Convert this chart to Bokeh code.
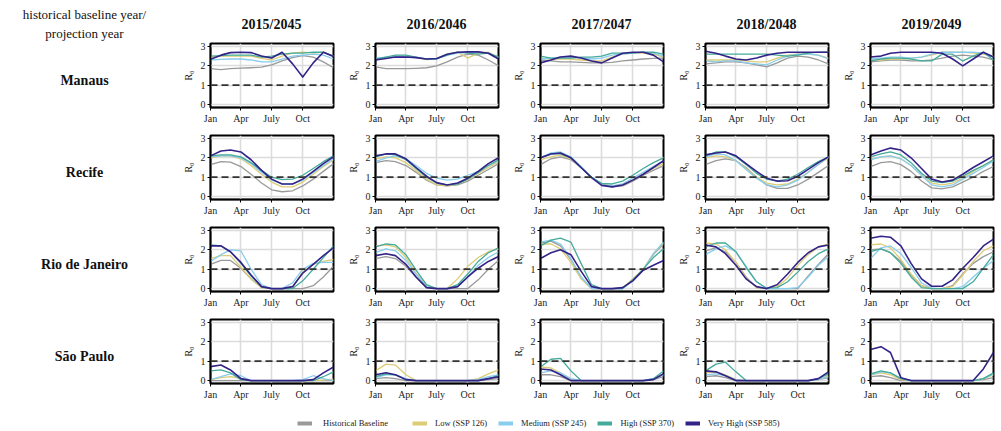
from bokeh.plotting import figure
from bokeh.layouts import row, column
from bokeh.models import Range1d, FixedTicker, Span, Legend, LegendItem
from bokeh.core.properties import value
from bokeh.embed import file_html
from bokeh.resources import INLINE

SERIF = "Liberation Serif"

# ---------------------------------------------------------------- data
cities = ["Manaus", "Recife", "Rio de Janeiro", "São Paulo"]
years = ["2015/2045", "2016/2046", "2017/2047", "2018/2048", "2019/2049"]
scenarios = ["Historical Baseline", "Low (SSP 126)", "Medium (SSP 245)",
             "High (SSP 370)", "Very High (SSP 585)"]
colors = ["#999999", "#DDCC77", "#88CCEE", "#44AA99", "#332288"]
# first day of each month plus 31 Dec
day_of_year = [1, 32, 60, 91, 121, 152, 182, 213, 244, 274, 305, 335, 365]
tick_days = [1, 91, 182, 274]
tick_labels = ["Jan", "Apr", "July", "Oct"]
r0_ticks = [0, 1, 2, 3]

# R0 per city and scenario, one row per year pair (2015..2019)
manaus_historical = [
    [1.85, 1.8, 1.85, 1.88, 1.9, 1.93, 2.05, 2.25, 2.42, 2.52, 2.45, 2.2, 1.9],
    [1.95, 1.85, 1.85, 1.85, 1.87, 1.9, 2.0, 2.2, 2.45, 2.6, 2.55, 2.3, 2.0],
    [2.3, 2.25, 2.2, 2.2, 2.18, 2.15, 2.15, 2.18, 2.25, 2.3, 2.35, 2.38, 2.4],
    [2.1, 2.15, 2.2, 2.2, 2.15, 2.05, 1.95, 2.15, 2.4, 2.5, 2.45, 2.3, 2.1],
    [2.2, 2.25, 2.3, 2.3, 2.25, 2.25, 2.3, 2.4, 2.5, 2.55, 2.5, 2.45, 2.3],
]
manaus_low = [
    [2.45, 2.5, 2.5, 2.5, 2.5, 2.38, 2.3, 2.5, 2.65, 2.7, 2.65, 2.7, 2.5],
    [2.35, 2.42, 2.5, 2.5, 2.42, 2.32, 2.35, 2.6, 2.7, 2.4, 2.65, 2.7, 2.45],
    [2.4, 2.35, 2.35, 2.35, 2.3, 2.25, 2.25, 2.45, 2.6, 2.65, 2.65, 2.6, 2.45],
    [2.3, 2.3, 2.3, 2.3, 2.25, 2.2, 2.2, 2.4, 2.55, 2.6, 2.6, 2.55, 2.4],
    [2.3, 2.3, 2.35, 2.35, 2.4, 2.45, 2.55, 2.7, 2.7, 2.7, 2.65, 2.6, 2.5],
]
manaus_medium = [
    [2.3, 2.33, 2.35, 2.35, 2.3, 2.2, 2.2, 2.35, 2.5, 2.55, 2.6, 2.55, 2.35],
    [2.4, 2.45, 2.5, 2.5, 2.45, 2.35, 2.35, 2.55, 2.65, 2.7, 2.7, 2.65, 2.45],
    [2.35, 2.4, 2.45, 2.45, 2.4, 2.35, 2.4, 2.55, 2.6, 2.65, 2.7, 2.65, 2.5],
    [2.25, 2.2, 2.25, 2.25, 2.15, 2.1, 2.05, 2.3, 2.5, 2.6, 2.6, 2.55, 2.35],
    [2.35, 2.4, 2.45, 2.45, 2.4, 2.45, 2.6, 2.7, 2.7, 2.7, 2.7, 2.65, 2.45],
]
manaus_high = [
    [2.5, 2.52, 2.55, 2.55, 2.55, 2.45, 2.5, 2.6, 2.65, 2.65, 2.7, 2.7, 2.5],
    [2.35, 2.45, 2.55, 2.55, 2.45, 2.35, 2.35, 2.55, 2.7, 2.65, 2.6, 2.65, 2.45],
    [2.5, 2.4, 2.4, 2.4, 2.45, 2.45, 2.5, 2.65, 2.65, 2.65, 2.7, 2.7, 2.6],
    [2.6, 2.6, 2.6, 2.6, 2.6, 2.6, 2.6, 2.55, 2.5, 2.55, 2.65, 2.7, 2.7],
    [2.25, 2.35, 2.4, 2.4, 2.35, 2.25, 2.25, 2.6, 2.6, 2.25, 2.5, 2.7, 2.3],
]
manaus_very_high = [
    [2.34, 2.55, 2.68, 2.7, 2.68, 2.5, 2.4, 2.7, 2.1, 1.42, 2.15, 2.7, 2.48],
    [2.3, 2.38, 2.45, 2.45, 2.42, 2.35, 2.38, 2.6, 2.7, 2.72, 2.72, 2.65, 2.35],
    [2.15, 2.3, 2.45, 2.5, 2.4, 2.25, 2.15, 2.4, 2.65, 2.7, 2.7, 2.55, 2.2],
    [2.75, 2.65, 2.5, 2.35, 2.3, 2.4, 2.55, 2.65, 2.7, 2.7, 2.7, 2.7, 2.7],
    [2.45, 2.5, 2.65, 2.7, 2.7, 2.7, 2.7, 2.65, 2.35, 2.0, 2.35, 2.7, 2.45],
]

recife_historical = [
    [1.65, 1.8, 1.78, 1.55, 1.15, 0.7, 0.35, 0.25, 0.3, 0.55, 0.9, 1.3, 1.7],
    [1.75, 1.85, 1.8, 1.6, 1.25, 0.85, 0.6, 0.55, 0.6, 0.8, 1.1, 1.4, 1.7],
    [1.65, 1.95, 2.05, 1.9, 1.5, 1.0, 0.65, 0.5, 0.55, 0.8, 1.1, 1.35, 1.6],
    [1.65, 1.85, 1.95, 1.85, 1.5, 1.0, 0.6, 0.42, 0.42, 0.6, 0.9, 1.25, 1.6],
    [1.55, 1.75, 1.8, 1.65, 1.3, 0.8, 0.45, 0.4, 0.5, 0.75, 1.0, 1.3, 1.55],
]
recife_low = [
    [2.0, 2.1, 2.1, 1.95, 1.6, 1.15, 0.75, 0.5, 0.5, 0.75, 1.15, 1.55, 1.9],
    [1.95, 2.05, 2.0, 1.75, 1.35, 0.9, 0.6, 0.55, 0.65, 0.9, 1.2, 1.5, 1.8],
    [1.9, 2.05, 2.15, 1.95, 1.5, 1.0, 0.62, 0.55, 0.6, 0.85, 1.15, 1.45, 1.7],
    [2.0, 2.1, 2.05, 1.85, 1.45, 1.0, 0.7, 0.6, 0.65, 0.9, 1.25, 1.65, 2.0],
    [1.9, 2.05, 2.1, 1.95, 1.6, 1.1, 0.7, 0.6, 0.7, 0.95, 1.3, 1.6, 1.9],
]
recife_medium = [
    [2.05, 2.1, 2.1, 2.0, 1.7, 1.25, 0.85, 0.65, 0.65, 0.85, 1.25, 1.6, 1.95],
    [1.8, 2.0, 2.1, 1.95, 1.6, 1.2, 0.95, 0.85, 0.9, 1.1, 1.3, 1.6, 1.85],
    [2.0, 2.25, 2.3, 2.05, 1.55, 1.0, 0.62, 0.55, 0.65, 0.95, 1.25, 1.55, 1.85],
    [2.05, 2.2, 2.15, 1.85, 1.4, 0.95, 0.62, 0.5, 0.6, 0.85, 1.25, 1.65, 2.05],
    [1.9, 2.05, 2.1, 1.95, 1.6, 1.1, 0.6, 0.5, 0.6, 0.9, 1.2, 1.5, 1.85],
]
recife_high = [
    [2.1, 2.15, 2.15, 2.05, 1.75, 1.35, 1.0, 0.87, 0.9, 1.1, 1.45, 1.8, 2.1],
    [2.05, 2.2, 2.15, 1.9, 1.45, 1.0, 0.7, 0.6, 0.65, 0.9, 1.25, 1.6, 1.9],
    [2.0, 2.2, 2.2, 2.0, 1.5, 1.0, 0.68, 0.65, 0.8, 1.1, 1.45, 1.75, 2.0],
    [2.1, 2.3, 2.3, 2.05, 1.65, 1.2, 0.9, 0.8, 0.9, 1.15, 1.5, 1.8, 2.05],
    [2.05, 2.2, 2.3, 2.15, 1.75, 1.2, 0.8, 0.72, 0.8, 1.05, 1.35, 1.6, 1.9],
]
recife_very_high = [
    [2.1, 2.35, 2.4, 2.3, 1.9, 1.35, 0.9, 0.65, 0.65, 0.9, 1.3, 1.7, 2.05],
    [2.1, 2.2, 2.2, 1.95, 1.5, 1.05, 0.72, 0.6, 0.7, 0.95, 1.3, 1.7, 2.0],
    [2.0, 2.2, 2.25, 2.0, 1.5, 0.98, 0.58, 0.5, 0.6, 0.85, 1.15, 1.5, 1.85],
    [2.15, 2.25, 2.3, 2.1, 1.7, 1.3, 0.95, 0.8, 0.82, 1.05, 1.4, 1.75, 2.05],
    [2.15, 2.35, 2.5, 2.4, 2.0, 1.45, 0.9, 0.75, 0.85, 1.15, 1.5, 1.8, 2.1],
]

rio_historical = [
    [1.25, 1.45, 1.45, 1.05, 0.5, 0.05, 0, 0, 0, 0, 0.15, 0.6, 1.15],
    [1.55, 1.65, 1.55, 1.15, 0.6, 0.05, 0, 0, 0, 0, 0.45, 1.0, 1.45],
    [2.35, 2.45, 2.2, 1.5, 0.6, 0, 0, 0, 0, 0.45, 1.0, 1.75, 2.3],
    [1.95, 2.1, 1.9, 1.35, 0.6, 0.05, 0, 0, 0, 0, 0.65, 1.25, 1.8],
    [2.0, 2.05, 1.85, 1.4, 0.7, 0.15, 0, 0, 0.15, 0.75, 1.3, 1.65, 1.9],
]
rio_low = [
    [1.55, 1.7, 1.7, 1.1, 0.5, 0.05, 0, 0, 0.1, 0.85, 1.25, 1.4, 1.5],
    [2.2, 2.25, 2.15, 1.6, 0.8, 0.15, 0, 0, 0.5, 1.15, 1.6, 1.9, 2.05],
    [2.3, 2.3, 2.05, 1.35, 0.5, 0, 0, 0, 0.05, 0.5, 1.0, 1.8, 2.35],
    [2.35, 2.3, 2.0, 1.35, 0.55, 0.05, 0, 0.1, 0.55, 1.2, 1.75, 2.15, 2.3],
    [2.25, 2.3, 2.1, 1.5, 0.75, 0.15, 0, 0, 0.1, 0.7, 1.4, 1.95, 2.2],
]
rio_medium = [
    [1.4, 1.75, 2.0, 1.95, 1.0, 0.2, 0, 0, 0.3, 1.0, 1.3, 1.35, 1.35],
    [1.85, 2.05, 1.95, 1.45, 0.75, 0.1, 0, 0, 0.1, 0.6, 1.2, 1.6, 1.9],
    [2.4, 2.5, 2.3, 1.55, 0.6, 0, 0, 0, 0, 0.4, 0.95, 1.8, 2.4],
    [1.75, 2.05, 2.2, 1.9, 1.15, 0.35, 0, 0, 0, 0.05, 0.6, 1.2, 1.65],
    [1.55, 2.1, 2.2, 1.8, 1.1, 0.3, 0.02, 0, 0, 0.1, 0.6, 1.05, 1.45],
]
rio_high = [
    [2.25, 2.2, 1.9, 1.3, 0.65, 0.1, 0, 0, 0, 0.4, 1.0, 1.6, 2.2],
    [2.15, 2.3, 2.25, 1.75, 0.95, 0.2, 0, 0, 0.2, 0.75, 1.4, 1.85, 2.1],
    [2.2, 2.5, 2.6, 2.4, 1.3, 0.2, 0, 0, 0, 0.45, 1.0, 1.6, 2.05],
    [2.15, 2.35, 2.35, 1.9, 1.1, 0.35, 0.02, 0.05, 0.35, 0.85, 1.4, 1.8, 2.05],
    [1.9, 2.05, 1.85, 1.3, 0.6, 0.05, 0, 0, 0, 0, 0.35, 1.05, 1.75],
]
rio_very_high = [
    [2.2, 2.2, 1.9, 1.35, 0.7, 0.1, 0, 0, 0.1, 0.8, 1.25, 1.7, 2.1],
    [1.7, 1.8, 1.7, 1.25, 0.6, 0.05, 0, 0, 0.1, 0.6, 1.05, 1.4, 1.65],
    [1.55, 1.85, 2.0, 1.75, 0.9, 0.1, 0, 0, 0.05, 0.4, 0.95, 1.2, 1.45],
    [2.25, 2.15, 1.8, 1.2, 0.5, 0.1, 0, 0.2, 0.75, 1.35, 1.85, 2.15, 2.25],
    [2.6, 2.7, 2.65, 2.2, 1.3, 0.5, 0.12, 0.12, 0.45, 1.05, 1.6, 2.2, 2.55],
]

sao_paulo_historical = [
    [0, 0, 0, 0, 0, 0, 0, 0, 0, 0, 0, 0, 0],
    [0.1, 0.15, 0.1, 0, 0, 0, 0, 0, 0, 0, 0, 0.05, 0.1],
    [0.3, 0.3, 0.2, 0, 0, 0, 0, 0, 0, 0, 0, 0.05, 0.2],
    [0.2, 0.25, 0.15, 0, 0, 0, 0, 0, 0, 0, 0, 0.05, 0.15],
    [0.2, 0.25, 0.15, 0, 0, 0, 0, 0, 0, 0, 0, 0.05, 0.15],
]
sao_paulo_low = [
    [0.05, 0.15, 0.2, 0.12, 0, 0, 0, 0, 0, 0, 0, 0.03, 0.08],
    [0.5, 0.85, 0.8, 0.3, 0, 0, 0, 0, 0, 0, 0.1, 0.35, 0.55],
    [0.7, 0.65, 0.4, 0.05, 0, 0, 0, 0, 0, 0, 0, 0.1, 0.3],
    [0.4, 0.45, 0.3, 0.05, 0, 0, 0, 0, 0, 0, 0, 0.05, 0.25],
    [0.3, 0.4, 0.3, 0.05, 0, 0, 0, 0, 0, 0, 0, 0.1, 0.3],
]
sao_paulo_medium = [
    [0.05, 0.2, 0.35, 0.25, 0, 0, 0, 0, 0, 0.05, 0.25, 0.1, 0],
    [0.15, 0.3, 0.3, 0.1, 0, 0, 0, 0, 0, 0, 0.05, 0.2, 0.3],
    [0.4, 0.5, 0.4, 0.1, 0, 0, 0, 0, 0, 0, 0, 0.1, 0.3],
    [0.3, 0.35, 0.25, 0.05, 0, 0, 0, 0, 0, 0, 0, 0.05, 0.2],
    [0.3, 0.45, 0.4, 0.1, 0, 0, 0, 0, 0, 0, 0, 0.1, 0.35],
]
sao_paulo_high = [
    [0.5, 0.55, 0.4, 0.05, 0, 0, 0, 0, 0, 0, 0, 0.2, 0.45],
    [0.2, 0.35, 0.3, 0.05, 0, 0, 0, 0, 0, 0, 0, 0.1, 0.25],
    [0.7, 1.1, 1.15, 0.5, 0, 0, 0, 0, 0, 0, 0, 0.1, 0.5],
    [0.5, 0.85, 0.95, 0.45, 0, 0, 0, 0, 0, 0, 0, 0.1, 0.35],
    [0.35, 0.5, 0.4, 0.1, 0, 0, 0, 0, 0, 0, 0, 0.1, 0.4],
]
sao_paulo_very_high = [
    [0.72, 0.8, 0.55, 0.1, 0, 0, 0, 0, 0, 0, 0.05, 0.4, 0.7],
    [0.3, 0.4, 0.3, 0.05, 0, 0, 0, 0, 0, 0, 0, 0.1, 0.2],
    [0.6, 0.55, 0.3, 0, 0, 0, 0, 0, 0, 0, 0, 0.05, 0.35],
    [0.5, 0.45, 0.25, 0, 0, 0, 0, 0, 0, 0, 0, 0.1, 0.45],
    [1.6, 1.75, 1.45, 0.15, 0, 0, 0, 0, 0, 0, 0, 0.6, 1.45],
]

city_series = [
    [manaus_historical, manaus_low, manaus_medium, manaus_high, manaus_very_high],
    [recife_historical, recife_low, recife_medium, recife_high, recife_very_high],
    [rio_historical, rio_low, rio_medium, rio_high, rio_very_high],
    [sao_paulo_historical, sao_paulo_low, sao_paulo_medium, sao_paulo_high,
     sao_paulo_very_high],
]

# ---------------------------------------------------------------- layout
LABEL_W = 179
PANEL_W = 165
HEADER_H = 35
ROW_H = 92
LEGEND_H = 28
B_LEFT, B_RIGHT, B_TOP, B_BOTTOM = 30, 11, 8, 20
FRAME_H = ROW_H - B_TOP - B_BOTTOM
TOTAL_W = 1001


def panel_width(j):
    return PANEL_W if j < len(years) - 1 else TOTAL_W - LABEL_W - PANEL_W * (len(years) - 1)


def blank_fig(width, height, x_range, y_range, **kw):
    p = figure(width=width, height=height, x_range=x_range, y_range=y_range,
               output_backend="svg", toolbar_location=None,
               x_axis_location=None, y_axis_location=None,
               outline_line_color=None, **kw)
    p.grid.visible = False
    return p


def style_axis(ax):
    ax.axis_line_color = "black"
    ax.axis_line_width = 1.5
    ax.major_tick_line_color = "black"
    ax.major_tick_out = 3
    ax.major_tick_in = 0
    ax.minor_tick_line_color = None
    ax.major_label_text_font = SERIF
    ax.major_label_text_font_size = "10px"
    ax.major_label_text_color = "#222222"
    ax.major_label_standoff = 2


def make_panel(ci, yj):
    w = panel_width(yj)
    p = figure(width=w, height=ROW_H,
               x_range=Range1d(day_of_year[0], day_of_year[-1]),
               y_range=Range1d(-0.15, 3.15),
               output_backend="svg", toolbar_location=None,
               min_border_left=B_LEFT, min_border_right=B_RIGHT - (PANEL_W - w),
               min_border_top=B_TOP, min_border_bottom=B_BOTTOM,
               outline_line_color="black", outline_line_width=2,
               background_fill_color="white")
    xt = FixedTicker(ticks=tick_days)
    yt = FixedTicker(ticks=r0_ticks)
    p.xaxis.ticker = xt
    p.yaxis.ticker = yt
    p.xgrid.ticker = xt
    p.ygrid.ticker = yt
    p.xaxis.major_label_overrides = {d: lab for d, lab in zip(tick_days, tick_labels)}
    style_axis(p.xaxis[0])
    style_axis(p.yaxis[0])
    p.yaxis.axis_label = "R₀"
    p.yaxis.axis_label_text_font = SERIF
    p.yaxis.axis_label_text_font_size = "10px"
    p.yaxis.axis_label_text_font_style = "normal"
    p.yaxis.axis_label_text_color = "#222222"
    p.yaxis.axis_label_standoff = 4
    p.grid.grid_line_color = "#dcdcdc"
    p.grid.grid_line_width = 1.6

    p.add_layout(Span(location=1, dimension="width", line_color="#333333",
                      line_width=1.8, line_dash="7 4"))
    for s, series in enumerate(city_series[ci]):
        p.line(day_of_year, series[yj], line_color=colors[s],
               line_width=1.6 if s == 4 else 1.3, line_join="round")
    return p


# left column: header caption and city names
left_h = HEADER_H + ROW_H * len(cities)
left = blank_fig(LABEL_W, left_h, Range1d(0, LABEL_W), Range1d(left_h, 0), min_border=0)
left.text(x=[84, 84], y=[14, 33], text=["historical baseline year/", "projection year"],
          text_font=value(SERIF), text_font_size="13px", text_align="center",
          text_baseline="middle", text_color="#111111")
label_y = [HEADER_H + i * ROW_H + B_TOP + FRAME_H / 2 + 4.5 for i in range(len(cities))]
left.text(x=[84] * len(cities), y=label_y, text=cities,
          text_font=value(SERIF), text_font_size="14px", text_font_style="bold",
          text_align="center", text_baseline="middle", text_color="#111111")

# column headers
headers = []
for j, yr in enumerate(years):
    w = panel_width(j)
    h = blank_fig(w, HEADER_H, Range1d(0, 1), Range1d(HEADER_H, 0),
                  min_border_left=B_LEFT, min_border_right=B_RIGHT - (PANEL_W - w),
                  min_border_top=0, min_border_bottom=0)
    h.text(x=[0.5], y=[23.5], text=[yr], text_font=value(SERIF), text_font_size="14px",
           text_font_style="bold", text_align="center", text_baseline="middle",
           text_color="#111111")
    headers.append(h)

grid_rows = [row(headers)]
for ci in range(len(cities)):
    grid_rows.append(row([make_panel(ci, yj) for yj in range(len(years))]))

# legend strip: the baseline key sits a little apart from the four scenarios
nan = float("nan")
leg = blank_fig(TOTAL_W, LEGEND_H, Range1d(0, 1), Range1d(0, 1), min_border=0)
items = []
for s, name in enumerate(scenarios):
    r = leg.line([nan], [nan], line_color=colors[s], line_width=4)
    items.append(LegendItem(label=name, renderers=[r]))

legend_style = dict(orientation="horizontal", glyph_width=15, glyph_height=12,
                    padding=0, margin=0, border_line_color=None,
                    background_fill_alpha=0, label_text_font=SERIF,
                    label_text_font_size="8.5px", label_text_color="#222222",
                    label_height=12)
leg.add_layout(Legend(items=items[:1], location=(297, 2), label_standoff=11,
                      spacing=11, **legend_style))
leg.add_layout(Legend(items=items[1:], location=(412, 2), label_standoff=8,
                      spacing=11, **legend_style))

layout = column(row(left, column(grid_rows)), leg)

with open("out.html", "w") as f:
    f.write(file_html(layout, INLINE))
